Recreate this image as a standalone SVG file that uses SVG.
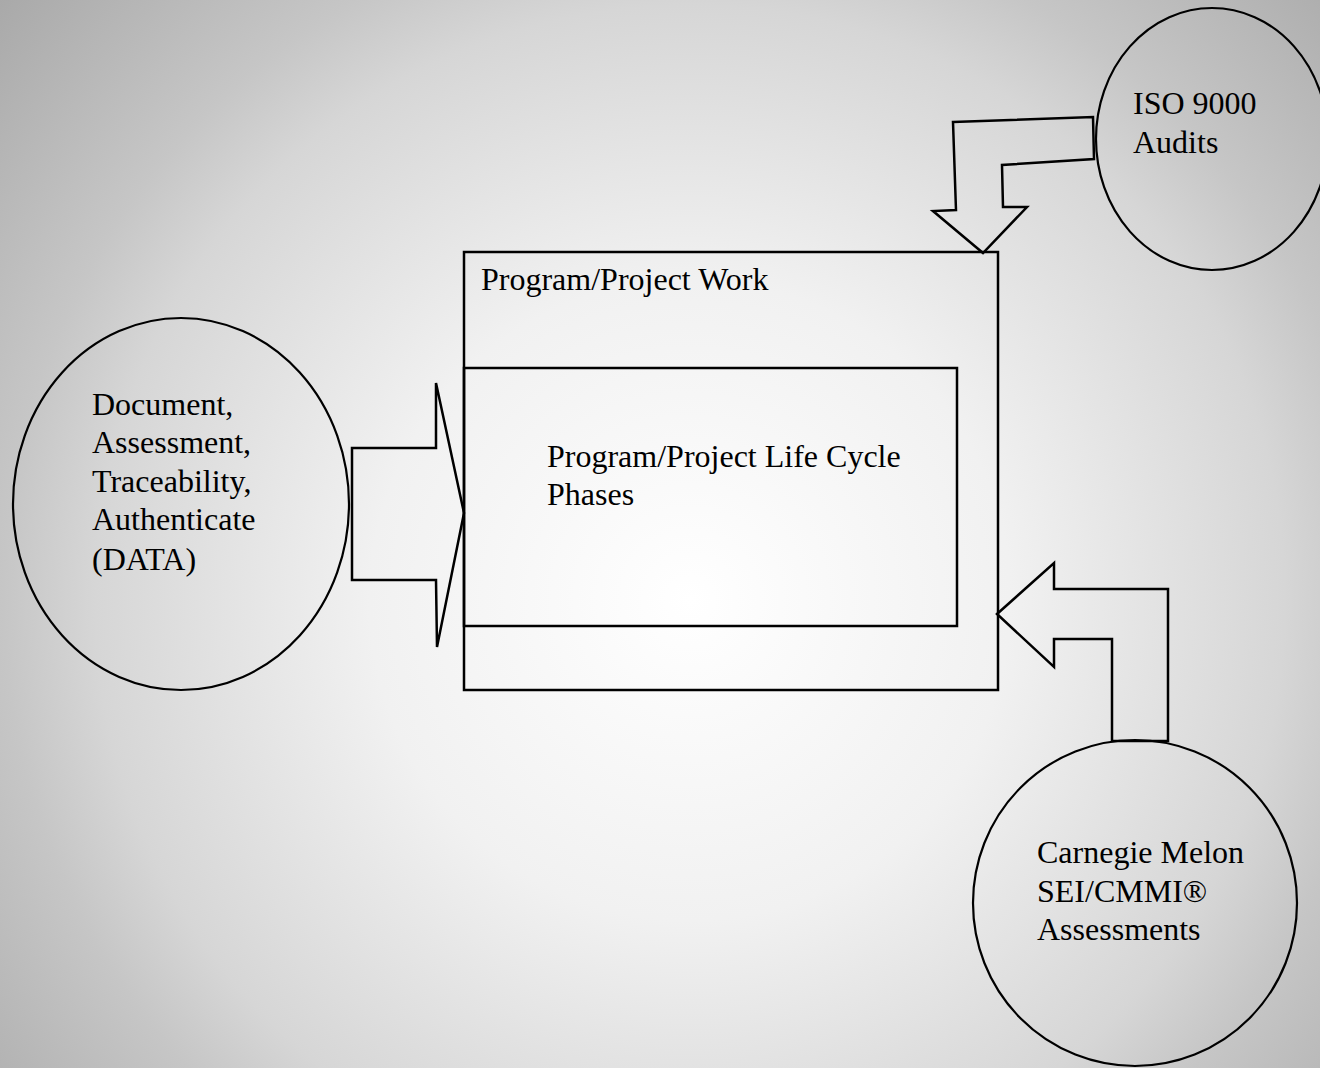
<svg xmlns="http://www.w3.org/2000/svg" width="1320" height="1068" viewBox="0 0 1320 1068">
<defs>
<radialGradient id="bg" gradientUnits="userSpaceOnUse" cx="690" cy="600" r="915">
<stop offset="0" stop-color="#ffffff"/>
<stop offset="0.35" stop-color="#f1f1f1"/>
<stop offset="0.65" stop-color="#d6d6d6"/>
<stop offset="0.75" stop-color="#c6c6c6"/>
<stop offset="1" stop-color="#a9a9a9"/>
</radialGradient>
</defs>
<style>
.shape{fill:none;stroke:#000;stroke-width:2.5;stroke-linejoin:miter}
.oval{fill:none;stroke:#000;stroke-width:2.2}
.lbl{font-family:"Liberation Serif","Times New Roman",serif;font-size:32px;fill:#000}
</style>
<rect x="0" y="0" width="1320" height="1068" fill="url(#bg)"/>

<g id="program-project-work">
<rect class="shape" x="464" y="252" width="534" height="438"/>
<text class="lbl" x="481" y="290">Program/Project Work</text>
</g>

<g id="life-cycle-phases">
<rect class="shape" x="464" y="368" width="493" height="258"/>
<text class="lbl" x="547" y="467">Program/Project Life Cycle</text>
<text class="lbl" x="547" y="505">Phases</text>
</g>

<g id="data-node">
<ellipse class="oval" cx="181" cy="504" rx="168" ry="186"/>
<text class="lbl" x="92" y="415">Document,</text>
<text class="lbl" x="92" y="453">Assessment,</text>
<text class="lbl" x="92" y="492">Traceability,</text>
<text class="lbl" x="92" y="530">Authenticate</text>
<text class="lbl" x="92" y="570">(DATA)</text>
</g>

<g id="iso-node">
<ellipse class="oval" cx="1212" cy="139" rx="116" ry="131"/>
<text class="lbl" x="1133" y="114">ISO 9000</text>
<text class="lbl" x="1133" y="153">Audits</text>
</g>

<g id="cmmi-node">
<ellipse class="oval" cx="1135" cy="903" rx="162" ry="163"/>
<text class="lbl" x="1037" y="863">Carnegie Melon</text>
<text class="lbl" x="1037" y="902">SEI/CMMI®</text>
<text class="lbl" x="1037" y="940">Assessments</text>
</g>

<g id="connectors">
<polygon class="shape" points="352,448 436,448 436,383 464,513 437,647 436,580 352,580"/>
<polygon class="shape" points="953,122 1093,117 1094,159 1002,165 1003,207 1027,207 983,253 933,211 956,210"/>
<polygon class="shape" points="997,614 1054,563 1054,589 1168,589 1168,741 1112,741 1112,639 1054,639 1054,667"/>
</g>
</svg>
